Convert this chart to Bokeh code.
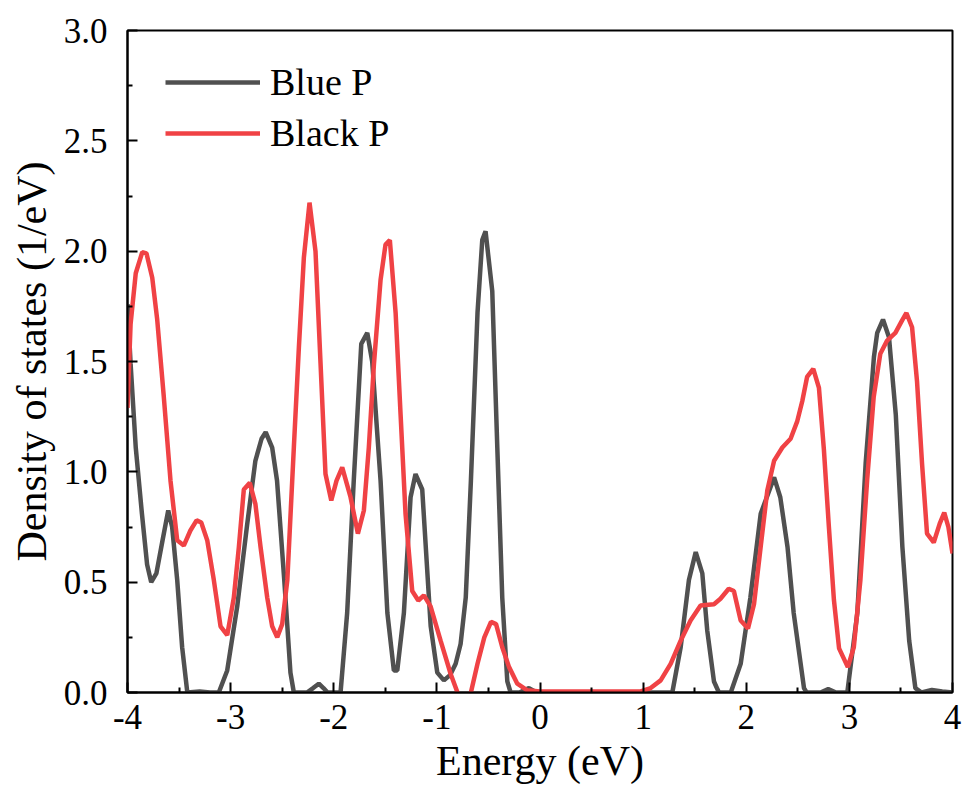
from bokeh.plotting import figure
from bokeh.models import Range1d, PrintfTickFormatter, FixedTicker, Legend, LegendItem
from bokeh.embed import file_html
from bokeh.resources import INLINE

# ---- data ----
blue_e = [-4.00, -3.97, -3.92, -3.86, -3.81, -3.77, -3.72, -3.66, -3.605, -3.567, -3.518, -3.47, -3.42,
          -3.30, -3.20, -3.115, -3.033, -2.936, -2.84, -2.76, -2.70, -2.66, -2.597, -2.55, -2.48, -2.42,
          -2.387, -2.26, -2.20, -2.145, -2.10, -2.06, -1.934, -1.87, -1.806, -1.733, -1.675, -1.627,
          -1.546, -1.48, -1.417, -1.384, -1.32, -1.255, -1.207, -1.142, -1.06, -0.996, -0.932, -0.87,
          -0.818, -0.77, -0.72, -0.67, -0.606, -0.56, -0.528, -0.463, -0.414, -0.366, -0.317, -0.285,
          -0.20, -0.107, -0.05, 0.0, 0.5, 1.0, 1.283, 1.364, 1.444, 1.51, 1.574, 1.622, 1.687, 1.735,
          1.85, 1.946, 2.04, 2.14, 2.27, 2.33, 2.40, 2.46, 2.56, 2.585, 2.72, 2.795, 2.87, 2.98, 3.077,
          3.158, 3.238, 3.27, 3.326, 3.384, 3.45, 3.514, 3.58, 3.64, 3.70, 3.80, 3.90, 4.00]
blue_dos = [1.76, 1.49, 1.11, 0.81, 0.58, 0.50, 0.54, 0.69, 0.825, 0.75, 0.51, 0.205, 0.0,
            0.005, 0.0, 0.0, 0.10, 0.39, 0.76, 1.05, 1.15, 1.18, 1.11, 0.96, 0.51, 0.09,
            0.0, 0.0, 0.02, 0.04, 0.02, 0.0, 0.0, 0.36, 0.96, 1.58, 1.63, 1.50,
            0.96, 0.36, 0.10, 0.10, 0.36, 0.885, 0.99, 0.92, 0.30, 0.09, 0.055, 0.08,
            0.13, 0.22, 0.43, 0.96, 1.72, 2.05, 2.09, 1.82, 1.11, 0.43, 0.05, 0.0,
            0.0, 0.02, 0.005, 0.0, 0.0, 0.0, 0.0, 0.205, 0.51, 0.636, 0.54, 0.28, 0.05, 0.0,
            0.0, 0.13, 0.43, 0.81, 0.975, 0.885, 0.66, 0.36, 0.02, 0.0, 0.0, 0.015, 0.0, 0.0, 0.36,
            1.04, 1.52, 1.63, 1.69, 1.61, 1.26, 0.66, 0.235, 0.02, 0.0, 0.012, 0.005, 0.0]

black_e = [-4.00, -3.97, -3.92, -3.857, -3.816, -3.76, -3.712, -3.648, -3.583, -3.518, -3.454, -3.39,
           -3.33, -3.285, -3.227, -3.163, -3.098, -3.033, -2.969, -2.92, -2.872, -2.814, -2.76, -2.71,
           -2.645, -2.597, -2.548, -2.50, -2.45, -2.387, -2.338, -2.29, -2.235, -2.177, -2.128, -2.08,
           -2.024, -1.973, -1.918, -1.837, -1.766, -1.708, -1.66, -1.61, -1.546, -1.498, -1.456, -1.40,
           -1.352, -1.304, -1.239, -1.18, -1.126, -1.061, -0.964, -0.867, -0.80, -0.735, -0.67, -0.606,
           -0.54, -0.475, -0.426, -0.366, -0.30, -0.22, -0.123, 0.0, 0.5, 0.976, 1.073, 1.17, 1.267,
           1.364, 1.46, 1.557, 1.687, 1.75, 1.83, 1.88, 1.946, 2.017, 2.075, 2.14, 2.204, 2.27, 2.35,
           2.43, 2.495, 2.543, 2.59, 2.65, 2.705, 2.753, 2.80, 2.85, 2.90, 2.985, 3.043, 3.107, 3.172,
           3.236, 3.30, 3.366, 3.446, 3.51, 3.553, 3.608, 3.656, 3.705, 3.753, 3.818, 3.876, 3.92,
           3.96, 4.00]
black_dos = [1.29, 1.67, 1.90, 1.995, 1.99, 1.88, 1.69, 1.34, 0.96, 0.69, 0.666, 0.734,
             0.78, 0.77, 0.69, 0.51, 0.30, 0.26, 0.43, 0.66, 0.92, 0.95, 0.855, 0.66,
             0.43, 0.30, 0.25, 0.31, 0.51, 1.11, 1.565, 1.97, 2.22, 2.00, 1.49, 0.99,
             0.87, 0.96, 1.02, 0.885, 0.72, 0.825, 1.11, 1.49, 1.87, 2.03, 2.05, 1.72,
             1.26, 0.81, 0.46, 0.417, 0.44, 0.39, 0.235, 0.085, 0.0, -0.04, 0.0, 0.13,
             0.25, 0.32, 0.31, 0.205, 0.115, 0.04, 0.01, 0.005, 0.005, 0.005, 0.02, 0.055, 0.13,
             0.235, 0.326, 0.394, 0.40, 0.425, 0.47, 0.46, 0.326, 0.29, 0.40, 0.66, 0.915, 1.05, 1.11,
             1.15, 1.23, 1.32, 1.43, 1.467, 1.38, 1.10, 0.76, 0.42, 0.20, 0.115, 0.205, 0.51, 0.96,
             1.34, 1.535, 1.595, 1.63, 1.685, 1.72, 1.655, 1.41, 1.035, 0.72, 0.68, 0.765, 0.815,
             0.75, 0.63]

series_names = ["Blue P", "Black P"]
x_ticks = [-4, -3, -2, -1, 0, 1, 2, 3, 4]
y_ticks = [0.0, 0.5, 1.0, 1.5, 2.0, 2.5, 3.0]

FONT = "Liberation Serif"
GRAY = "#505050"
RED = "#F04245"

p = figure(width=966, height=796, output_backend="svg", toolbar_location=None,
           x_range=Range1d(-4, 4), y_range=Range1d(0, 3),
           min_border_left=127, min_border_right=14, min_border_top=30, min_border_bottom=104)
p.background_fill_color = "white"
p.border_fill_color = "white"
p.outline_line_color = "black"
p.outline_line_width = 2
p.xgrid.visible = False
p.ygrid.visible = False

r1 = p.line(blue_e, blue_dos, line_color=GRAY, line_width=4.5)
r2 = p.line(black_e, black_dos, line_color=RED, line_width=4.5)

for ax in (p.xaxis[0], p.yaxis[0]):
    ax.axis_line_width = 2
    ax.axis_line_color = "black"
    ax.major_tick_in = 10
    ax.major_tick_out = 0
    ax.minor_tick_in = 5
    ax.minor_tick_out = 0
    ax.major_tick_line_width = 2
    ax.minor_tick_line_width = 2
    ax.major_label_text_font = FONT
    ax.major_label_text_font_size = "35px"
    ax.major_label_text_color = "black"
    ax.axis_label_text_font = FONT
    ax.axis_label_text_font_size = "42px"
    ax.axis_label_text_font_style = "normal"
    ax.axis_label_text_color = "black"

p.xaxis.ticker = FixedTicker(ticks=x_ticks, minor_ticks=[v + 0.5 for v in x_ticks[:-1]])
p.yaxis.ticker = FixedTicker(ticks=y_ticks, minor_ticks=[v + 0.25 for v in y_ticks[:-1]])
p.xaxis.formatter = PrintfTickFormatter(format="%d")
p.yaxis.formatter = PrintfTickFormatter(format="%.1f")
p.xaxis.axis_label = "Energy (eV)"
p.yaxis.axis_label = "Density of states (1/eV)"
p.xaxis.major_label_standoff = 12
p.yaxis.major_label_standoff = 20
p.xaxis.axis_label_standoff = 6
p.yaxis.axis_label_standoff = 6

legend = Legend(items=[LegendItem(label=series_names[0], renderers=[r1]),
                       LegendItem(label=series_names[1], renderers=[r2])],
                location=(38, 537))
legend.border_line_color = None
legend.background_fill_alpha = 0
legend.padding = 0
legend.margin = 0
legend.spacing = 7
legend.glyph_width = 95
legend.glyph_height = 44
legend.label_height = 44
legend.label_standoff = 10
legend.label_text_font = FONT
legend.label_text_font_size = "38px"
legend.label_text_color = "black"
p.add_layout(legend)

open("out.html", "w").write(file_html(p, INLINE))
